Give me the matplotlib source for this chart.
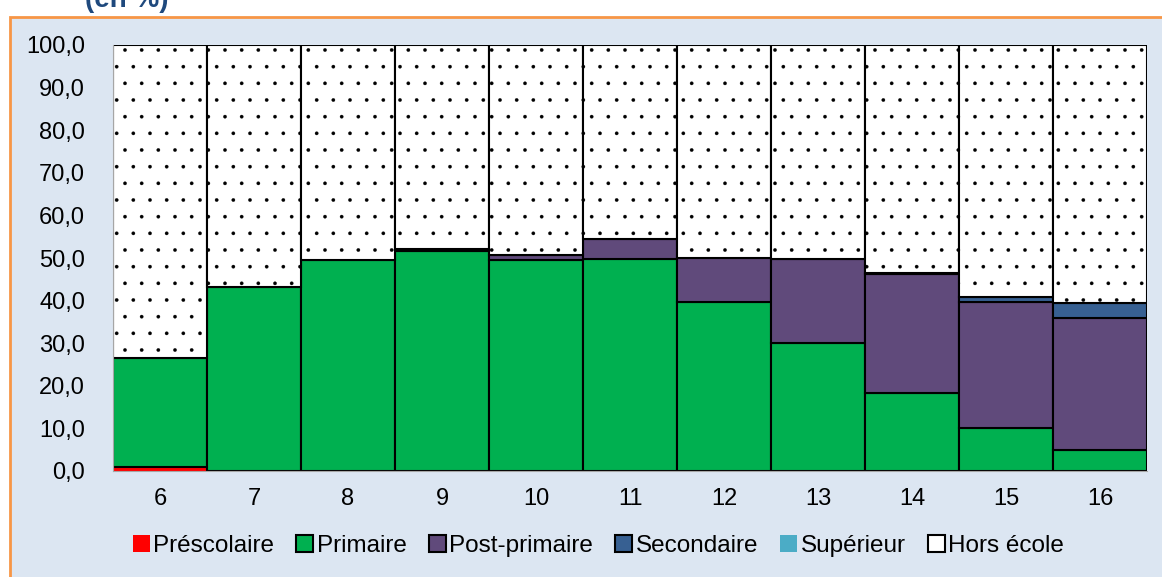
import numpy as np
import matplotlib.pyplot as plt
from matplotlib.patches import Patch, Rectangle

ages = ['6', '7', '8', '9', '10', '11', '12', '13', '14', '15', '16']
prescolaire = [0.9, 0, 0, 0, 0, 0, 0, 0, 0, 0, 0]
primaire = [25.6, 43.2, 49.5, 51.7, 49.6, 49.8, 39.7, 30.1, 18.4, 10.0, 4.9]
post_primaire = [0, 0, 0, 0.3, 1.0, 4.6, 10.4, 19.6, 27.8, 29.7, 31.1]
secondaire = [0, 0, 0, 0, 0, 0, 0, 0, 0.3, 1.2, 3.5]
superieur = [0, 0, 0, 0, 0, 0, 0, 0, 0, 0, 0]

names = ['Préscolaire', 'Primaire', 'Post-primaire', 'Secondaire', 'Supérieur', 'Hors école']
colors = ['#FF0000', '#00B050', '#604A7B', '#376092', '#4BACC6', 'white']


def main():
    plt.rcParams['font.family'] = ['Liberation Sans', 'DejaVu Sans']
    plt.rcParams['hatch.linewidth'] = 0.2

    series = [prescolaire, primaire, post_primaire, secondaire, superieur]
    total = np.sum(np.array(series), axis=0)
    hors = 100 - total

    fig = plt.figure(figsize=(11.62, 5.77), dpi=100)
    fig.patch.set_facecolor('white')
    fig.patches.append(Rectangle((10 / 1162, -0.01), 1.0, 1 - 17 / 577 + 0.01,
                                 transform=fig.transFigure, facecolor='#DCE6F2',
                                 edgecolor='#F79646', linewidth=2, zorder=-5))
    fig.text(0.073, 1.0, '(en %)', color='#1F497D', fontsize=20,
             fontweight='bold', va='center', ha='left')

    ax = fig.add_axes([113 / 1162, 1 - 471 / 577, (1147 - 113) / 1162, (471 - 45) / 577])
    ax.set_facecolor('none')
    ax.set_zorder(2)

    x = np.arange(len(ages))
    bottom = np.zeros(len(ages))
    for i, (vals, c) in enumerate(zip(series, colors[:5])):
        vals = np.array(vals)
        lw = 0 if i == 0 else 1.5
        ax.bar(x, vals, width=1.0, bottom=bottom, color=c, edgecolor='black',
               linewidth=lw * (vals > 0))
        bottom += vals
    ax.bar(x, hors, width=1.0, bottom=bottom, color='white', edgecolor='black',
           linewidth=1.5, hatch='.')

    ax.set_xlim(-0.5, len(ages) - 0.5)
    ax.set_ylim(0, 100)
    ax.set_xticks(x)
    ax.set_xticklabels(ages)
    ax.set_yticks(np.arange(0, 101, 10))
    ax.set_yticklabels([f'{v:.1f}'.replace('.', ',') for v in np.arange(0, 101, 10)])
    ax.tick_params(axis='both', length=0, labelsize=17)
    ax.tick_params(axis='x', pad=12)
    ax.tick_params(axis='y', pad=20)
    for s in ['top', 'right']:
        ax.spines[s].set_visible(False)
    for s in ['left', 'bottom']:
        ax.spines[s].set_color('#A6A6A6')

    handles = []
    for n, c in zip(names, colors):
        ec = 'none' if n in ('Préscolaire', 'Supérieur') else 'black'
        handles.append(Patch(facecolor=c, edgecolor=ec, linewidth=1.5, label=n))
    fig.legend(handles=handles, loc='center', bbox_to_anchor=(0.515, 1 - 546 / 577),
               ncol=6, frameon=False, fontsize=17.5, handlelength=0.7,
               handleheight=0.7, handletextpad=0.15, columnspacing=0.9)

    fig.savefig('out.png', dpi=100, facecolor=fig.get_facecolor())


if __name__ == "__main__":
    main()
